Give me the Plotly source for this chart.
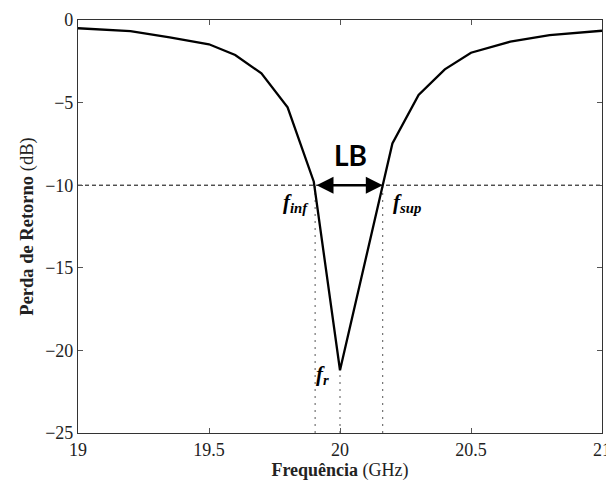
import plotly.graph_objects as go

# Data
freq = [19.0, 19.2, 19.35, 19.5, 19.6, 19.7, 19.8, 19.9, 20.0, 20.2, 20.3, 20.4, 20.5, 20.65, 20.8, 21.0]
return_loss = [-0.5, -0.67, -1.05, -1.47, -2.12, -3.23, -5.29, -9.79, -21.2, -7.47, -4.54, -2.99, -1.98, -1.31, -0.91, -0.65]

level_db = -10
f_inf = 19.905
f_r = 20.0
f_sup = 20.163
r_min = -21.2

x_ticks = [19, 19.5, 20, 20.5, 21]
x_tick_labels = ["19", "19.5", "20", "20.5", "21"]
y_ticks = [0, -5, -10, -15, -20, -25]
y_tick_labels = ["0", "\u22125", "\u221210", "\u221215", "\u221220", "\u221225"]

serif = "'Liberation Serif', 'Times New Roman', serif"

fig = go.Figure()

# -10 dB reference line
fig.add_trace(go.Scatter(x=[x_ticks[0], x_ticks[-1]], y=[level_db, level_db], mode="lines",
                         line=dict(color="black", width=1, dash="4px,3px"), hoverinfo="skip"))
# vertical dotted guides
for fx, ytop in [(f_inf, level_db), (f_r, r_min), (f_sup, level_db)]:
    fig.add_trace(go.Scatter(x=[fx, fx], y=[-25, ytop], mode="lines",
                             line=dict(color="#555555", width=1, dash="2px,5px"), hoverinfo="skip"))

# main curve
fig.add_trace(go.Scatter(x=freq, y=return_loss, mode="lines",
                         line=dict(color="black", width=2.3), hoverinfo="skip"))

# double arrow
fig.add_annotation(x=f_sup, y=level_db, ax=f_inf, ay=level_db, axref="x", ayref="y",
                   xref="x", yref="y", text="", showarrow=True, arrowhead=2, arrowside="end+start",
                   arrowwidth=2.6, arrowsize=1.3, arrowcolor="black")
fig.add_annotation(x=(f_inf + f_sup) / 2 + 0.005, y=-8.2, xref="x", yref="y", text="<b>LB</b>",
                   showarrow=False, font=dict(family="Lato", size=28, color="black"))

lab_font = dict(family=serif, size=21, color="black")
fig.add_annotation(x=19.833, y=-11.1, xref="x", yref="y",
                   text="<b><i>f</i></b><sub><b><i>inf</i></b></sub>", showarrow=False, font=lab_font)
fig.add_annotation(x=20.255, y=-11.1, xref="x", yref="y",
                   text="<b><i>f</i></b><sub><b><i>sup</i></b></sub>", showarrow=False, font=lab_font)
fig.add_annotation(x=19.935, y=-21.5, xref="x", yref="y",
                   text="<b><i>f</i></b><sub><b><i>r</i></b></sub>", showarrow=False, font=lab_font)

axis_common = dict(showgrid=False, zeroline=False, showline=True, linecolor="#333333", linewidth=1.2,
                   mirror="allticks", ticks="inside", ticklen=5, tickcolor="#555555",
                   ticklabeloverflow="allow", automargin=False,
                   tickfont=dict(family=serif, size=18, color="#222222"))

fig.update_xaxes(range=[19, 21], tickvals=x_ticks, ticktext=x_tick_labels,
                 title=dict(text="<b>Frequência</b> (GHz)", font=dict(family=serif, size=18, color="#222222"),
                            standoff=4),
                 **axis_common)
fig.update_yaxes(range=[-25, 0], tickvals=y_ticks, ticktext=y_tick_labels,
                 title=dict(text="<b>Perda de Retorno</b> (dB)", font=dict(family=serif, size=18.5, color="#222222"),
                            standoff=6),
                 **axis_common)

fig.update_layout(width=606, height=481, margin=dict(l=78, r=4, t=20, b=48),
                  paper_bgcolor="white", plot_bgcolor="white", showlegend=False)

fig.write_html("out.html", config={"displayModeBar": False},
               post_script="document.body.style.margin='0';document.body.style.overflow='hidden';")
